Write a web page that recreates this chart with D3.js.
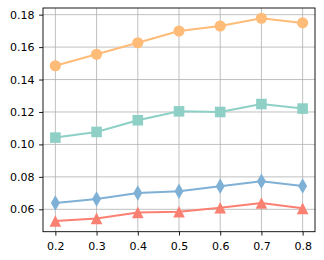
<!DOCTYPE html>
<html>
<head>
<meta charset="utf-8">
<script src="https://cdn.jsdelivr.net/npm/d3@7"></script>
<style>
  body { margin: 0; background: #fff; }
  svg text { font-family: "DejaVu Sans", sans-serif; font-size: 11px; fill: #000; }
</style>
</head>
<body>
<svg class="graph" width="324" height="260"></svg>
<script>
// data
var xs = [0.2, 0.3, 0.4, 0.5, 0.6, 0.7, 0.8];
var orangeVals = [0.1485, 0.1556, 0.1627, 0.1699, 0.1730, 0.1778, 0.1749];
var tealVals = [0.1042, 0.1077, 0.1149, 0.1204, 0.1200, 0.1249, 0.1221];
var blueVals = [0.0639, 0.0664, 0.0701, 0.0711, 0.0742, 0.0773, 0.0744];
var redVals = [0.0528, 0.0544, 0.0581, 0.0585, 0.0610, 0.0639, 0.0606];
var xTicks = [0.2, 0.3, 0.4, 0.5, 0.6, 0.7, 0.8];
var yTicks = [0.06, 0.08, 0.10, 0.12, 0.14, 0.16, 0.18];

var series = [
  {vals: orangeVals, color: "#ffbb78", marker: "circle"},
  {vals: tealVals, color: "#8ed0c6", marker: "square"},
  {vals: blueVals, color: "#7fb0d5", marker: "diamond"},
  {vals: redVals, color: "#fa8072", marker: "triangle"}
];

var svg = d3.select('svg.graph'),
  margin = {top: 8, right: 9, bottom: 28.3, left: 43},
  width = +svg.attr("width") - margin.left - margin.right,
  height = +svg.attr("height") - margin.top - margin.bottom,
  g = svg.append("g").attr("transform", "translate(" + margin.left + "," + margin.top + ")");

var x = d3.scaleLinear().domain([0.17, 0.83]).range([0, width]);
var y = d3.scaleLinear().domain([0.0462, 0.1841]).range([height, 0]);

// grid
g.append("g").selectAll("line").data(xTicks).enter().append("line")
  .attr("x1", function(d) { return x(d); }).attr("x2", function(d) { return x(d); })
  .attr("y1", 0).attr("y2", height)
  .attr("stroke", "#b0b0b0").attr("stroke-width", 1).attr("stroke-opacity", 0.8);
g.append("g").selectAll("line").data(yTicks).enter().append("line")
  .attr("y1", function(d) { return y(d); }).attr("y2", function(d) { return y(d); })
  .attr("x1", 0).attr("x2", width)
  .attr("stroke", "#b0b0b0").attr("stroke-width", 1).attr("stroke-opacity", 0.8);

// lines and markers
var line = d3.line()
  .x(function(d, i) { return x(xs[i]); })
  .y(function(d) { return y(d); });

var markerPath = function(type) {
  if (type === "circle") return d3.symbol(d3.symbolCircle, 98)();
  if (type === "square") return d3.symbol(d3.symbolSquare, 112)();
  if (type === "diamond") return d3.symbol(d3.symbolDiamond, 70)();
  // matplotlib style '^'
  var s = 5.8;
  return "M0," + (-s) + "L" + s + "," + s + "L" + (-s) + "," + s + "Z";
};

series.forEach(function(s) {
  g.append("path")
    .datum(s.vals)
    .attr("d", line)
    .attr("fill", "none")
    .attr("stroke", s.color)
    .attr("stroke-width", 2);
  g.append("g").selectAll("path")
    .data(s.vals)
    .enter().append("path")
      .attr("transform", function(d, i) { return "translate(" + x(xs[i]) + "," + y(d) + ")"; })
      .attr("d", markerPath(s.marker))
      .attr("fill", s.color);
});

// axes
var xAxis = g.append("g")
  .attr("transform", "translate(0," + height + ")")
  .call(d3.axisBottom(x).tickValues(xTicks).tickFormat(d3.format(".1f")).tickSize(3.9).tickPadding(6.3));
var yAxis = g.append("g")
  .call(d3.axisLeft(y).tickValues(yTicks).tickFormat(d3.format(".2f")).tickSize(3.9).tickPadding(4.5));
[xAxis, yAxis].forEach(function(a) {
  a.select(".domain").remove();
  a.selectAll("line").attr("stroke", "#000").attr("stroke-width", 0.9);
  a.selectAll("text").attr("font-size", null).attr("font-family", null);
});

g.append("rect")
  .attr("width", width).attr("height", height)
  .attr("fill", "none").attr("stroke", "#000").attr("stroke-width", 0.9);
</script>
</body>
</html>
